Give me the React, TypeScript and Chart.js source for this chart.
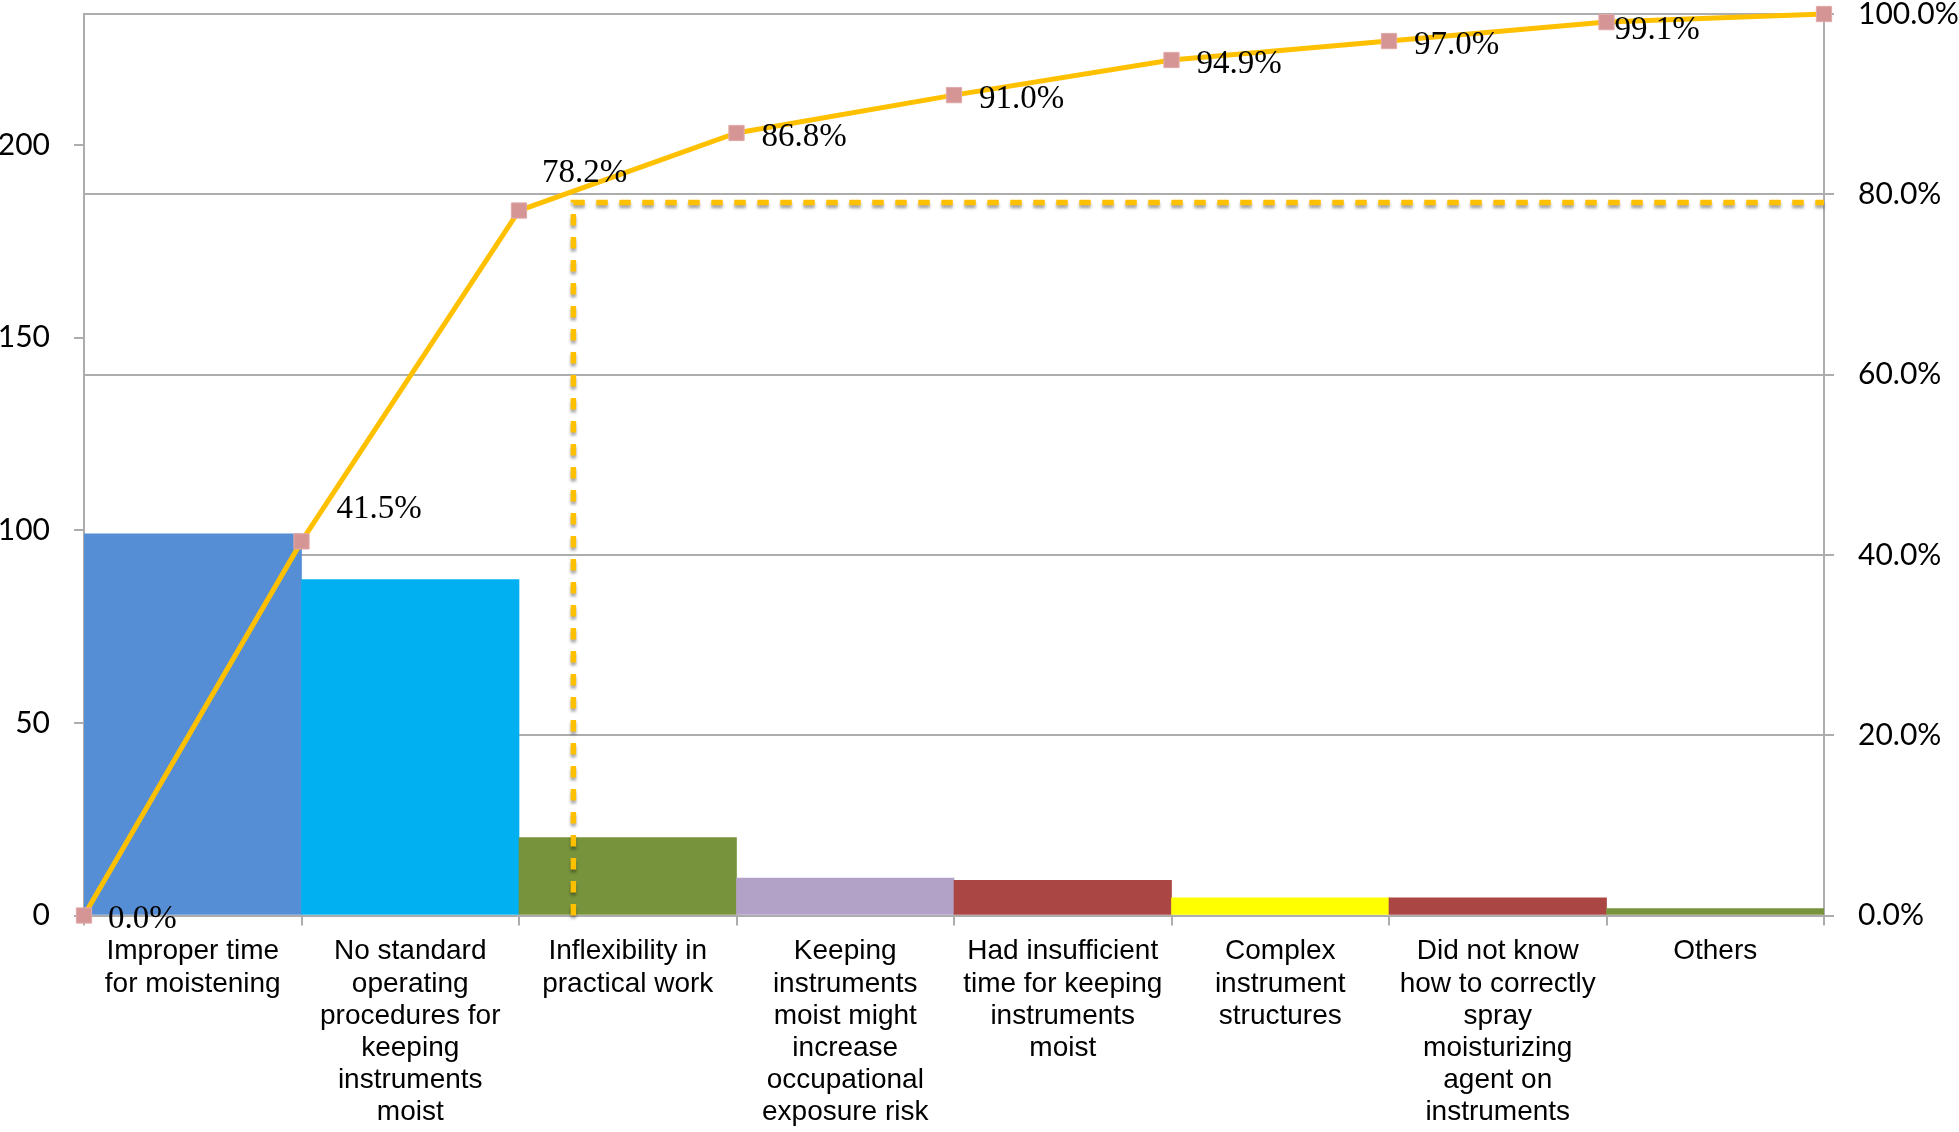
import React, { useEffect, useRef } from 'react';
import { Chart, registerables } from 'chart.js';

Chart.register(...registerables);

// ---- data ----
const categories: string[][] = [
  ['Improper time', 'for moistening'],
  ['No standard', 'operating', 'procedures for', 'keeping', 'instruments', 'moist'],
  ['Inflexibility in', 'practical work'],
  ['Keeping', 'instruments', 'moist might', 'increase', 'occupational', 'exposure risk'],
  ['Had insufficient', 'time for keeping', 'instruments', 'moist'],
  ['Complex', 'instrument', 'structures'],
  ['Did not know', 'how to correctly', 'spray', 'moisturizing', 'agent on', 'instruments'],
  ['Others'],
];
const counts: number[] = [99.1, 87.2, 20.2, 9.7, 9.1, 4.6, 4.6, 1.8];
const cumulativePct: number[] = [0, 41.5, 78.2, 86.8, 91.0, 94.9, 97.0, 99.1, 100];
const cumulativeLabels: (string | null)[] = ['0.0%', '41.5%', '78.2%', '86.8%', '91.0%', '94.9%', '97.0%', '99.1%', null];
const leftTicks: number[] = [0, 50, 100, 150, 200];
const leftMax = 234;
const cutoffIndex = 2.25;
const cutoffPct = 79.1;

// ---- styles ----
const barColors = ['#558ED5', '#00B0F0', '#77933C', '#B3A2C7', '#AA4643', '#FFFF00', '#AA4643', '#77933C'];
const labelOffsets: ([number, number] | null)[] = [
  [24, 12], [35, -23], [23, -29], [25, 13], [25, 13], [25, 13], [25, 13], [8, 17], null,
];
const gridColor = '#ADADAD';

const guidePlugin = {
  id: 'guides',
  afterDatasetsDraw(chart: any) {
    const ctx = chart.ctx;
    const x2 = chart.scales.x2;
    const yR = chart.scales.yR;
    const { right, bottom } = chart.chartArea;
    const px = x2.getPixelForValue(cutoffIndex);
    const py = yR.getPixelForValue(cutoffPct);
    ctx.save();
    ctx.strokeStyle = '#FFC000';
    ctx.lineWidth = 5.5;
    ctx.setLineDash([11.5, 11.5]);
    ctx.shadowColor = 'rgba(0,0,0,0.35)';
    ctx.shadowBlur = 3;
    ctx.shadowOffsetY = 3;
    ctx.beginPath();
    ctx.moveTo(px, bottom);
    ctx.lineTo(px, py);
    ctx.lineTo(right, py);
    ctx.stroke();
    ctx.restore();

    // data labels for cumulative line
    const meta = chart.getDatasetMeta(1);
    ctx.save();
    ctx.font = '33px "Liberation Serif", "DejaVu Serif", serif';
    ctx.fillStyle = '#000';
    ctx.textAlign = 'left';
    ctx.textBaseline = 'alphabetic';
    meta.data.forEach((pt: any, i: number) => {
      const txt = cumulativeLabels[i];
      const off = labelOffsets[i];
      if (!txt || !off) return;
      ctx.fillText(txt, pt.x + off[0], pt.y + off[1]);
    });
    ctx.restore();
  },
};

export default function App() {
  const ref = useRef<HTMLCanvasElement | null>(null);
  useEffect(() => {
    document.body.style.margin = '0';
    const canvas = ref.current;
    if (!canvas) return;
    const chart = new Chart(canvas, {
      type: 'bar',
      data: {
        labels: categories as any,
        datasets: [
          {
            type: 'bar',
            data: counts,
            backgroundColor: barColors,
            barPercentage: 1,
            categoryPercentage: 1,
            grouped: false,
            xAxisID: 'x',
            yAxisID: 'y',
            order: 2,
          } as any,
          {
            type: 'line',
            data: cumulativePct.map((v, i) => ({ x: i, y: v })),
            xAxisID: 'x2',
            yAxisID: 'yR',
            borderColor: '#FFC000',
            borderWidth: 5,
            pointStyle: 'rect',
            pointRadius: 10.8,
            pointBackgroundColor: '#D69595',
            pointBorderColor: '#E2A9A9',
            pointBorderWidth: 1,
            tension: 0,
            clip: false,
            order: 1,
          } as any,
        ],
      },
      options: {
        animation: false,
        responsive: false,
        maintainAspectRatio: false,
        layout: { padding: { top: 14, left: 0, right: 0, bottom: 0 } },
        plugins: { legend: { display: false }, tooltip: { enabled: false } },
        scales: {
          x: {
            type: 'category',
            offset: true,
            grid: { offset: true, drawOnChartArea: false, drawTicks: true, tickLength: 10, color: gridColor, lineWidth: 2 },
            border: { display: true, color: gridColor, width: 2 },
            ticks: {
              color: '#000',
              font: { family: '"Liberation Sans", Arial, sans-serif', size: 28, lineHeight: 1.15 },
              padding: 10,
              maxRotation: 0,
              minRotation: 0,
              autoSkip: false,
            },
            afterFit(scale: any) {
              scale.height = 216.5;
              scale.paddingLeft = 0;
              scale.paddingRight = 0;
            },
          },
          x2: {
            type: 'linear',
            display: false,
            offset: false,
            grid: { offset: false },
            min: 0,
            max: 8,
          },
          y: {
            type: 'linear',
            position: 'left',
            min: 0,
            max: leftMax,
            afterBuildTicks(scale: any) {
              scale.ticks = leftTicks.map((v) => ({ value: v }));
            },
            grid: { drawOnChartArea: false, drawTicks: true, tickLength: 10, color: gridColor, lineWidth: 2 },
            border: { display: true, color: gridColor, width: 2 },
            ticks: {
              color: '#000',
              font: { family: 'Lato, "Open Sans", sans-serif', size: 30 },
              padding: 24,
            },
            afterFit(scale: any) {
              scale.width = 84;
              scale.paddingTop = 0;
              scale.paddingBottom = 0;
            },
          },
          yR: {
            type: 'linear',
            position: 'right',
            min: 0,
            max: 100,
            ticks: {
              stepSize: 20,
              color: '#000',
              font: { family: 'Lato, "Open Sans", sans-serif', size: 30 },
              padding: 24,
              callback: (v: any) => Number(v).toFixed(1) + '%',
            },
            grid: { drawOnChartArea: true, drawTicks: true, tickLength: 10, color: gridColor, lineWidth: 2 },
            border: { display: true, color: gridColor, width: 2 },
            afterFit(scale: any) {
              scale.width = 135;
              scale.paddingTop = 0;
              scale.paddingBottom = 0;
            },
          },
        },
      },
      plugins: [guidePlugin],
    });
    return () => chart.destroy();
  }, []);
  return (
    <div style={{ width: 1959, height: 1132, background: '#fff' }}>
      <canvas ref={ref} width={1959} height={1132} style={{ display: 'block' }} />
    </div>
  );
}
